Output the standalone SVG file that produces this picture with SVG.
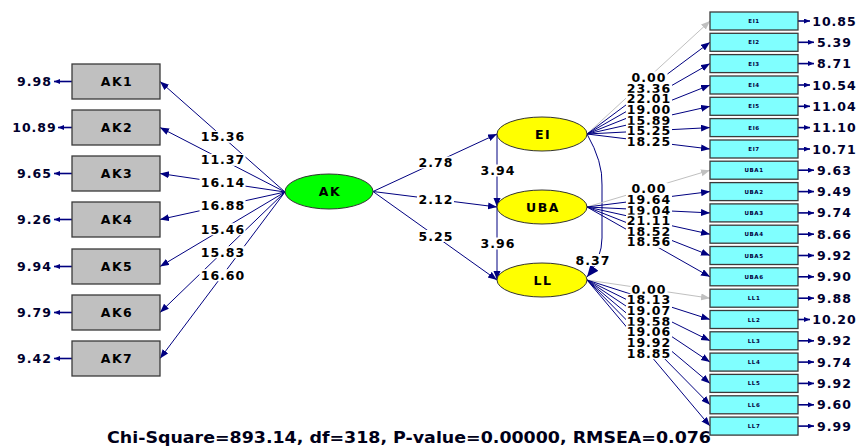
<svg xmlns="http://www.w3.org/2000/svg" width="860" height="446" viewBox="0 0 860 446">
<style>
.t{font-family:"DejaVu Sans",Verdana,sans-serif;font-weight:bold;}
.lab{font-size:12.5px;letter-spacing:1px;fill:#000;text-anchor:middle;}
.err{font-size:12.5px;letter-spacing:1px;fill:#00002e;text-anchor:middle;}
.nm{font-size:12.5px;letter-spacing:1.5px;fill:#000;text-anchor:middle;}
.sm{font-size:5.5px;letter-spacing:0.6px;fill:#000040;text-anchor:middle;}
.ln{stroke:#000080;stroke-width:1;fill:none;marker-end:url(#ah);}
.fx{stroke:#c0c0c0;stroke-width:1;fill:none;marker-end:url(#ag);}
.el{stroke:#000080;stroke-width:1.6;fill:none;marker-end:url(#ae);}
.bg{fill:#fff;}
.gb{fill:#c0c0c0;stroke:#3a3a3a;stroke-width:1.3;}
.cb{fill:#80ffff;stroke:#3a3a3a;stroke-width:1.3;}
.ye{fill:#ffff00;stroke:#333;stroke-width:1;}
</style>
<defs>
<marker id="ah" markerUnits="userSpaceOnUse" markerWidth="10" markerHeight="8" refX="9" refY="3.5" orient="auto"><path d="M0,0 L9,3.5 L0,7 z" fill="#000080"/></marker>
<marker id="ag" markerUnits="userSpaceOnUse" markerWidth="10" markerHeight="8" refX="9" refY="3.5" orient="auto"><path d="M0,0 L9,3.5 L0,7 z" fill="#c0c0c0"/></marker>
<marker id="ae" markerUnits="userSpaceOnUse" markerWidth="8" markerHeight="6" refX="6" refY="2.5" orient="auto"><path d="M0,0 L6,2.5 L0,5 z" fill="#000080"/></marker>
<marker id="ab" markerUnits="userSpaceOnUse" markerWidth="14" markerHeight="12" refX="12" refY="5" orient="auto"><path d="M0,0 L12,5 L0,10 z" fill="#000080"/></marker>
</defs>
<rect width="860" height="446" fill="#fff"/>
<g id="connectors">
<!-- AK loadings -->
<line class="ln" x1="285" y1="192" x2="160" y2="81.5"/>
<line class="ln" x1="285" y1="192" x2="160" y2="127.5"/>
<line class="ln" x1="285" y1="192" x2="160" y2="173.5"/>
<line class="ln" x1="285" y1="192" x2="160" y2="219.5"/>
<line class="ln" x1="285" y1="192" x2="160" y2="266.5"/>
<line class="ln" x1="285" y1="192" x2="160" y2="312.5"/>
<line class="ln" x1="285" y1="192" x2="160" y2="358.5"/>
<!-- left errors -->
<line class="el" x1="72" y1="81.5" x2="54" y2="81.5"/>
<line class="el" x1="72" y1="127.5" x2="58" y2="127.5"/>
<line class="el" x1="72" y1="173.5" x2="54" y2="173.5"/>
<line class="el" x1="72" y1="219.5" x2="54" y2="219.5"/>
<line class="el" x1="72" y1="266.5" x2="54" y2="266.5"/>
<line class="el" x1="72" y1="312.5" x2="54" y2="312.5"/>
<line class="el" x1="72" y1="358.5" x2="54" y2="358.5"/>
<!-- structural -->
<line class="ln" x1="373" y1="191.5" x2="497" y2="134"/>
<line class="ln" x1="373" y1="191.5" x2="497" y2="207"/>
<line class="ln" x1="373" y1="191.5" x2="497" y2="280"/>
<line class="ln" x1="497" y1="134" x2="497" y2="207"/>
<line class="ln" x1="497" y1="207" x2="497" y2="280"/>
<path d="M587,134 Q603,162 602,185 L602,238 Q602,258 587,277" stroke="#000080" stroke-width="1" fill="none" marker-end="url(#ab)"/>
<!-- EI loadings -->
<line class="fx" x1="587" y1="134" x2="710" y2="21"/>
<line class="ln" x1="587" y1="134" x2="710" y2="42.3"/>
<line class="ln" x1="587" y1="134" x2="710" y2="63.6"/>
<line class="ln" x1="587" y1="134" x2="710" y2="85"/>
<line class="ln" x1="587" y1="134" x2="710" y2="106.3"/>
<line class="ln" x1="587" y1="134" x2="710" y2="127.6"/>
<line class="ln" x1="587" y1="134" x2="710" y2="149"/>
<!-- UBA loadings -->
<line class="fx" x1="587" y1="207" x2="710" y2="170.2"/>
<line class="ln" x1="587" y1="207" x2="710" y2="191.6"/>
<line class="ln" x1="587" y1="207" x2="710" y2="212.9"/>
<line class="ln" x1="587" y1="207" x2="710" y2="234.2"/>
<line class="ln" x1="587" y1="207" x2="710" y2="255.5"/>
<line class="ln" x1="587" y1="207" x2="710" y2="276.8"/>
<!-- LL loadings -->
<line class="fx" x1="587" y1="280" x2="710" y2="298.2"/>
<line class="ln" x1="587" y1="280" x2="710" y2="319.5"/>
<line class="ln" x1="587" y1="280" x2="710" y2="340.8"/>
<line class="ln" x1="587" y1="280" x2="710" y2="362.1"/>
<line class="ln" x1="587" y1="280" x2="710" y2="383.4"/>
<line class="ln" x1="587" y1="280" x2="710" y2="404.8"/>
<line class="ln" x1="587" y1="280" x2="710" y2="426.1"/>
<!-- right errors -->
<line class="el" x1="798" y1="21" x2="810" y2="21"/>
<line class="el" x1="798" y1="42.3" x2="814" y2="42.3"/>
<line class="el" x1="798" y1="63.6" x2="814" y2="63.6"/>
<line class="el" x1="798" y1="85" x2="810" y2="85"/>
<line class="el" x1="798" y1="106.3" x2="810" y2="106.3"/>
<line class="el" x1="798" y1="127.6" x2="810" y2="127.6"/>
<line class="el" x1="798" y1="149" x2="810" y2="149"/>
<line class="el" x1="798" y1="170.2" x2="814" y2="170.2"/>
<line class="el" x1="798" y1="191.6" x2="814" y2="191.6"/>
<line class="el" x1="798" y1="212.9" x2="814" y2="212.9"/>
<line class="el" x1="798" y1="234.2" x2="814" y2="234.2"/>
<line class="el" x1="798" y1="255.5" x2="814" y2="255.5"/>
<line class="el" x1="798" y1="276.8" x2="814" y2="276.8"/>
<line class="el" x1="798" y1="298.2" x2="814" y2="298.2"/>
<line class="el" x1="798" y1="319.5" x2="810" y2="319.5"/>
<line class="el" x1="798" y1="340.8" x2="814" y2="340.8"/>
<line class="el" x1="798" y1="362.1" x2="814" y2="362.1"/>
<line class="el" x1="798" y1="383.4" x2="814" y2="383.4"/>
<line class="el" x1="798" y1="404.8" x2="814" y2="404.8"/>
<line class="el" x1="798" y1="426.1" x2="814" y2="426.1"/>
<!-- path labels -->
<g class="t">
<rect class="bg" x="199.5" y="130.8" width="46" height="12"/><text class="lab" x="223" y="141.2">15.36</text>
<rect class="bg" x="199.5" y="153.8" width="46" height="12"/><text class="lab" x="223" y="164.2">11.37</text>
<rect class="bg" x="199.5" y="176.8" width="46" height="12"/><text class="lab" x="223" y="187.2">16.14</text>
<rect class="bg" x="199.5" y="199.8" width="46" height="12"/><text class="lab" x="223" y="210.2">16.88</text>
<rect class="bg" x="199.5" y="223.2" width="46" height="12"/><text class="lab" x="223" y="233.7">15.46</text>
<rect class="bg" x="199.5" y="246.2" width="46" height="12"/><text class="lab" x="223" y="256.7">15.83</text>
<rect class="bg" x="199.5" y="269.2" width="46" height="12"/><text class="lab" x="223" y="279.7">16.60</text>

<rect class="bg" x="417" y="156.5" width="37" height="12"/><text class="lab" x="436" y="167">2.78</text>
<rect class="bg" x="417" y="193" width="37" height="12"/><text class="lab" x="436" y="203.5">2.12</text>
<rect class="bg" x="417" y="230" width="37" height="12"/><text class="lab" x="436" y="240.5">5.25</text>
<rect class="bg" x="479" y="164.5" width="37" height="12"/><text class="lab" x="498" y="175">3.94</text>
<rect class="bg" x="479" y="237.5" width="37" height="12"/><text class="lab" x="498" y="248">3.96</text>
<rect class="bg" x="574" y="254" width="37" height="12"/><text class="lab" x="593" y="264.5">8.37</text>

<rect class="bg" x="630.5" y="71.5" width="37" height="12"/><text class="lab" x="649" y="82">0.00</text>
<rect class="bg" x="626" y="82.2" width="46" height="12"/><text class="lab" x="649" y="92.7">23.36</text>
<rect class="bg" x="626" y="92.8" width="46" height="12"/><text class="lab" x="649" y="103.3">22.01</text>
<rect class="bg" x="626" y="103.5" width="46" height="12"/><text class="lab" x="649" y="114">19.00</text>
<rect class="bg" x="626" y="114.2" width="46" height="12"/><text class="lab" x="649" y="124.7">15.89</text>
<rect class="bg" x="626" y="124.8" width="46" height="12"/><text class="lab" x="649" y="135.3">15.25</text>
<rect class="bg" x="626" y="135.5" width="46" height="12"/><text class="lab" x="649" y="146">18.25</text>

<rect class="bg" x="630.5" y="182.6" width="37" height="12"/><text class="lab" x="649" y="193.1">0.00</text>
<rect class="bg" x="626" y="193.3" width="46" height="12"/><text class="lab" x="649" y="203.8">19.64</text>
<rect class="bg" x="626" y="204" width="46" height="12"/><text class="lab" x="649" y="214.5">19.04</text>
<rect class="bg" x="626" y="214.6" width="46" height="12"/><text class="lab" x="649" y="225.1">21.11</text>
<rect class="bg" x="626" y="225.3" width="46" height="12"/><text class="lab" x="649" y="235.8">18.52</text>
<rect class="bg" x="626" y="235.9" width="46" height="12"/><text class="lab" x="649" y="246.4">18.56</text>

<rect class="bg" x="630.5" y="283.1" width="37" height="12"/><text class="lab" x="649" y="293.6">0.00</text>
<rect class="bg" x="626" y="293.8" width="46" height="12"/><text class="lab" x="649" y="304.3">18.13</text>
<rect class="bg" x="626" y="304.4" width="46" height="12"/><text class="lab" x="649" y="314.9">19.07</text>
<rect class="bg" x="626" y="315.1" width="46" height="12"/><text class="lab" x="649" y="325.6">19.58</text>
<rect class="bg" x="626" y="325.7" width="46" height="12"/><text class="lab" x="649" y="336.2">19.06</text>
<rect class="bg" x="626" y="336.4" width="46" height="12"/><text class="lab" x="649" y="346.9">19.92</text>
<rect class="bg" x="626" y="347.1" width="46" height="12"/><text class="lab" x="649" y="357.6">18.85</text>
</g>
</g>

<g class="t">
<g id="AK1"><rect class="gb" x="72" y="64" width="88" height="35"/><text class="nm" x="117" y="86">AK1</text><text class="err" x="34.5" y="86">9.98</text></g>
<g id="AK2"><rect class="gb" x="72" y="110" width="88" height="35"/><text class="nm" x="117" y="132">AK2</text><text class="err" x="34.5" y="132">10.89</text></g>
<g id="AK3"><rect class="gb" x="72" y="156" width="88" height="35"/><text class="nm" x="117" y="178">AK3</text><text class="err" x="34.5" y="178">9.65</text></g>
<g id="AK4"><rect class="gb" x="72" y="202" width="88" height="35"/><text class="nm" x="117" y="224">AK4</text><text class="err" x="34.5" y="224">9.26</text></g>
<g id="AK5"><rect class="gb" x="72" y="249" width="88" height="35"/><text class="nm" x="117" y="271">AK5</text><text class="err" x="34.5" y="271">9.94</text></g>
<g id="AK6"><rect class="gb" x="72" y="295" width="88" height="35"/><text class="nm" x="117" y="317">AK6</text><text class="err" x="34.5" y="317">9.79</text></g>
<g id="AK7"><rect class="gb" x="72" y="341" width="88" height="35"/><text class="nm" x="117" y="363">AK7</text><text class="err" x="34.5" y="363">9.42</text></g>

<g id="AK"><ellipse cx="329" cy="191.5" rx="44" ry="17.5" fill="#00ff00" stroke="#333" stroke-width="1"/><text class="nm" x="330" y="196">AK</text></g>
<g id="EI"><ellipse class="ye" cx="542" cy="134" rx="45" ry="17"/><text class="nm" x="543" y="138.5">EI</text></g>
<g id="UBA"><ellipse class="ye" cx="542" cy="207" rx="45" ry="17"/><text class="nm" x="543" y="211.5">UBA</text></g>
<g id="LL"><ellipse class="ye" cx="542" cy="280" rx="45" ry="17"/><text class="nm" x="543" y="284.5">LL</text></g>

<g id="EI1"><rect class="cb" x="710" y="12" width="88" height="18"/><text class="sm" x="754" y="23">EI1</text><text class="err" x="834.5" y="25.5">10.85</text></g>
<g id="EI2"><rect class="cb" x="710" y="33.3" width="88" height="18"/><text class="sm" x="754" y="44.3">EI2</text><text class="err" x="834.5" y="46.8">5.39</text></g>
<g id="EI3"><rect class="cb" x="710" y="54.6" width="88" height="18"/><text class="sm" x="754" y="65.6">EI3</text><text class="err" x="834.5" y="68.1">8.71</text></g>
<g id="EI4"><rect class="cb" x="710" y="76" width="88" height="18"/><text class="sm" x="754" y="87">EI4</text><text class="err" x="834.5" y="89.5">10.54</text></g>
<g id="EI5"><rect class="cb" x="710" y="97.3" width="88" height="18"/><text class="sm" x="754" y="108.3">EI5</text><text class="err" x="834.5" y="110.8">11.04</text></g>
<g id="EI6"><rect class="cb" x="710" y="118.6" width="88" height="18"/><text class="sm" x="754" y="129.6">EI6</text><text class="err" x="834.5" y="132.1">11.10</text></g>
<g id="EI7"><rect class="cb" x="710" y="140" width="88" height="18"/><text class="sm" x="754" y="151">EI7</text><text class="err" x="834.5" y="153.5">10.71</text></g>
<g id="UBA1"><rect class="cb" x="710" y="161.2" width="88" height="18"/><text class="sm" x="754" y="172.2">UBA1</text><text class="err" x="834.5" y="174.7">9.63</text></g>
<g id="UBA2"><rect class="cb" x="710" y="182.6" width="88" height="18"/><text class="sm" x="754" y="193.6">UBA2</text><text class="err" x="834.5" y="196.1">9.49</text></g>
<g id="UBA3"><rect class="cb" x="710" y="203.9" width="88" height="18"/><text class="sm" x="754" y="214.9">UBA3</text><text class="err" x="834.5" y="217.4">9.74</text></g>
<g id="UBA4"><rect class="cb" x="710" y="225.2" width="88" height="18"/><text class="sm" x="754" y="236.2">UBA4</text><text class="err" x="834.5" y="238.7">8.66</text></g>
<g id="UBA5"><rect class="cb" x="710" y="246.5" width="88" height="18"/><text class="sm" x="754" y="257.5">UBA5</text><text class="err" x="834.5" y="260">9.92</text></g>
<g id="UBA6"><rect class="cb" x="710" y="267.8" width="88" height="18"/><text class="sm" x="754" y="278.8">UBA6</text><text class="err" x="834.5" y="281.3">9.90</text></g>
<g id="LL1"><rect class="cb" x="710" y="289.2" width="88" height="18"/><text class="sm" x="754" y="300.2">LL1</text><text class="err" x="834.5" y="302.7">9.88</text></g>
<g id="LL2"><rect class="cb" x="710" y="310.5" width="88" height="18"/><text class="sm" x="754" y="321.5">LL2</text><text class="err" x="834.5" y="324">10.20</text></g>
<g id="LL3"><rect class="cb" x="710" y="331.8" width="88" height="18"/><text class="sm" x="754" y="342.8">LL3</text><text class="err" x="834.5" y="345.3">9.92</text></g>
<g id="LL4"><rect class="cb" x="710" y="353.1" width="88" height="18"/><text class="sm" x="754" y="364.1">LL4</text><text class="err" x="834.5" y="366.6">9.74</text></g>
<g id="LL5"><rect class="cb" x="710" y="374.4" width="88" height="18"/><text class="sm" x="754" y="385.4">LL5</text><text class="err" x="834.5" y="387.9">9.92</text></g>
<g id="LL6"><rect class="cb" x="710" y="395.8" width="88" height="18"/><text class="sm" x="754" y="406.8">LL6</text><text class="err" x="834.5" y="409.3">9.60</text></g>
<g id="LL7"><rect class="cb" x="710" y="417.1" width="88" height="18"/><text class="sm" x="754" y="428.1">LL7</text><text class="err" x="834.5" y="430.6">9.99</text></g>

<text x="107" y="443" font-size="15" fill="#000018" textLength="604" lengthAdjust="spacingAndGlyphs">Chi-Square=893.14, df=318, P-value=0.00000, RMSEA=0.076</text>
</g>
</svg>
